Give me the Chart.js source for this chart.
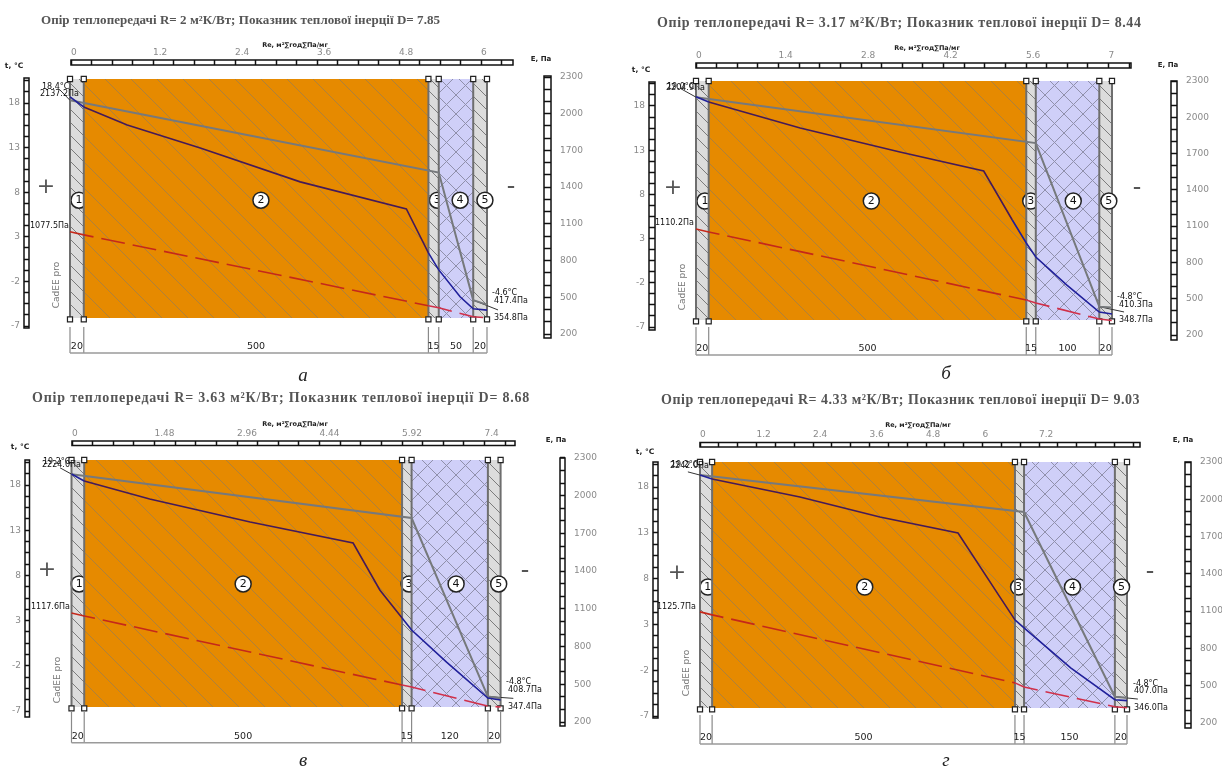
<!DOCTYPE html>
<html>
<head>
<meta charset="utf-8">
<title>Опір теплопередачі</title>
<script src="https://cdn.jsdelivr.net/npm/chart.js@4"></script>
<style>
  body { margin: 0; background: #fff; width: 1222px; height: 776px; overflow: hidden; position: relative; }
  canvas { position: absolute; left: 0; top: 0; }
  .title { position: absolute; white-space: nowrap; font-family: "Liberation Serif", serif; font-weight: bold; color: #555; transform: translateY(-50%); z-index: 5; }
  .caption { position: absolute; font: italic 19px "Liberation Serif", serif; color: #222; transform: translate(-50%, -50%); z-index: 5; }
</style>
</head>
<body>
<script>
// layer thickness, mm (same for the dimension labels under each panel)
const thicknessA = [20, 500, 15, 50, 20];
const thicknessB = [20, 500, 15, 100, 20];
const thicknessC = [20, 500, 15, 120, 20];
const thicknessD = [20, 500, 15, 150, 20];

// top axis labels, Re
const reLabelsA = [0, 1.2, 2.4, 3.6, 4.8, 6];
const reLabelsB = [0, 1.4, 2.8, 4.2, 5.6, 7];
const reLabelsC = [0, 1.48, 2.96, 4.44, 5.92, 7.4];
const reLabelsD = [0, 1.2, 2.4, 3.6, 4.8, 6, 7.2];

// side axis labels
const tempLabels = [18, 13, 8, 3, -2, -7];
const pressLabels = [2300, 2000, 1700, 1400, 1100, 800, 500, 200];

// temperature line: x in mm, t in °C
const tempXA = [0, 535, 585, 605];
const tempA = [18.3, 10.2, -4.1, -4.6];
const tempXB = [0, 535, 635, 655];
const tempB = [19.0, 13.8, -4.7, -4.8];
const tempXC = [0, 535, 655, 675];
const tempC = [19.2, 14.35, -5.4, -5.6];
const tempXD = [0, 535, 685, 705];
const tempD = [19.3, 15.27, -4.9, -5.0];

// saturation pressure E: x in mm, Pa
const satXA = [0, 20, 83, 189, 334, 488, 520, 535, 566, 585, 605];
const satA = [2137, 2055, 1908, 1720, 1443, 1222, 863, 724, 504, 406, 395];
const satXB = [0, 20, 164, 321, 453, 498, 520, 535, 584, 635, 655];
const satB = [2170, 2126, 1911, 1713, 1556, 1151, 961, 845, 613, 390, 374];
const satXC = [0, 20, 123, 281, 443, 485, 520, 535, 590, 655, 675];
const satC = [2173, 2117, 1974, 1791, 1624, 1250, 1027, 932, 677, 391, 375];
const satXD = [0, 20, 165, 297, 426, 495, 520, 535, 612, 685, 705];
const satD = [2195, 2163, 2019, 1858, 1729, 1215, 1030, 966, 644, 387, 380];

// vapour pressure e, dashed line: x in mm, Pa
const vapXA = [0, 20, 520, 535, 585, 605];
const vapA = [1035, 1010, 431, 414, 341, 333];
const vapXB = [0, 20, 520, 535, 635, 655];
const vapB = [1076, 1052, 489, 465, 332, 320];
const vapXC = [0, 20, 520, 535, 655, 675];
const vapC = [1067, 1043, 494, 478, 327, 319];
const vapXD = [0, 20, 520, 535, 685, 705];
const vapD = [1094, 1070, 523, 489, 331, 323];

// value labels next to the lines
const notesA = [["18.4°C", 42, 87], ["2137.2Па", 40, 94], ["1077.5Па", 30, 226], ["-4.6°C", 492, 293], ["417.4Па", 494, 301], ["354.8Па", 494, 318]];
const notesB = [["19.0°C", 667, 87], ["2204.9Па", 666, 88], ["1110.2Па", 655, 223], ["-4.8°C", 1117, 297], ["410.3Па", 1119, 305], ["348.7Па", 1119, 320]];
const notesC = [["19.2°C", 43, 462], ["2224.0Па", 42, 465], ["1117.6Па", 31, 607], ["-4.8°C", 506, 682], ["408.7Па", 508, 690], ["347.4Па", 508, 707]];
const notesD = [["19.2°C", 671, 465], ["2242.0Па", 670, 466], ["1125.7Па", 657, 607], ["-4.8°C", 1133, 684], ["407.0Па", 1134, 691], ["346.0Па", 1134, 708]];

const orangeHatch = makeHatch("#e68a00", "rgba(150,125,85,0.7)", 26, false);
const greyHatch = makeHatch("#dcdcdc", "#7c7c7c", 13, false);
const blueHatch = makeHatch("#cfcff8", "#9090ab", 19, true);
const layerFills = [greyHatch, orangeHatch, greyHatch, blueHatch, greyHatch];

const panels = [
  {
    title: "Опір теплопередачі R= 2 м²К/Вт; Показник теплової інерції D= 7.85", titleX: 41, titleY: 20, titleSize: 13, titleSpacing: 0.05,
    caption: "а", captionX: 303, captionY: 375,
    thickness: thicknessA, reLabels: reLabelsA, reSegments: 4,
    tempX: tempXA, temp: tempA, satX: satXA, sat: satA, vapX: vapXA, vap: vapA, notes: notesA,
    leaders: [[[-15, 19.5], [0, 18.3]], [[585, -4.1], [621, -5.2]]],
    circleX: [13, 277, 533, 566, 602], circleT: 7.1,
    frame: { left: 29, right: 544, top: 65, bottom: 338 },
    plot: { left: 70, right: 487, top: 79, bottom: 318 },
    t18: 103, tM7: 326, e2300: 77, e200: 334, re0: 71, reLabelGap: 82, reEnd: 513,
    rulerT: [78, 328, 5], rulerE: [76, 338, 7], rulerRe: 5,
    dimTop: -7.1, dimBottom: -10.03,
    plus: [46, 187], minus: [511, 187], cad: [57, 285],
    reTitle: [295, 45], tTitle: [14, 66], eTitle: [541, 59]
  },
  {
    title: "Опір теплопередачі R= 3.17 м²К/Вт; Показник теплової інерції D= 8.44", titleX: 657, titleY: 23, titleSize: 14, titleSpacing: 0.6,
    caption: "б", captionX: 946, captionY: 373,
    thickness: thicknessB, reLabels: reLabelsB, reSegments: 4,
    tempX: tempXB, temp: tempB, satX: satXB, sat: satB, vapX: vapXB, vap: vapB, notes: notesB,
    leaders: [[[-25, 20], [0, 19]], [[635, -4.7], [674, -5.3]]],
    circleX: [14, 276, 527, 594, 650], circleT: 7.25,
    frame: { left: 655, right: 1171, top: 68, bottom: 340 },
    plot: { left: 696, right: 1112, top: 81, bottom: 320 },
    t18: 106, tM7: 327, e2300: 81, e200: 335, re0: 696, reLabelGap: 82.5, reEnd: 1131,
    rulerT: [82, 330, 6], rulerE: [81, 340, 6], rulerRe: 5,
    dimTop: -7, dimBottom: -10.17,
    plus: [673, 188], minus: [1137, 188], cad: [683, 287],
    reTitle: [927, 48], tTitle: [641, 70], eTitle: [1168, 65]
  },
  {
    title: "Опір теплопередачі R= 3.63 м²К/Вт; Показник теплової інерції D= 8.68", titleX: 32, titleY: 398, titleSize: 14, titleSpacing: 0.8,
    caption: "в", captionX: 303, captionY: 760,
    thickness: thicknessC, reLabels: reLabelsC, reSegments: 4,
    tempX: tempXC, temp: tempC, satX: satXC, sat: satC, vapX: vapXC, vap: vapC, notes: notesC,
    leaders: [[[-18, 19.9], [0, 19.2]], [[655, -5.4], [695, -5.6]]],
    circleX: [12, 270, 531, 605, 672], circleT: 7.05,
    frame: { left: 29.5, right: 560, top: 445.5, bottom: 727 },
    plot: { left: 71.5, right: 500.6, top: 460, bottom: 707 },
    t18: 485, tM7: 711, e2300: 458, e200: 722, re0: 72, reLabelGap: 82.5, reEnd: 515,
    rulerT: [460, 717, 4.5], rulerE: [458, 726, 5], rulerRe: 4.5,
    dimTop: -7.1, dimBottom: -10.5,
    plus: [47, 570], minus: [525, 571], cad: [58, 680],
    reTitle: [295, 424], tTitle: [20, 447], eTitle: [556, 440]
  },
  {
    title: "Опір теплопередачі R= 4.33 м²К/Вт; Показник теплової інерції D= 9.03", titleX: 661, titleY: 400, titleSize: 14, titleSpacing: 0.52,
    caption: "г", captionX: 946, captionY: 760,
    thickness: thicknessD, reLabels: reLabelsD, reSegments: 3,
    tempX: tempXD, temp: tempD, satX: satXD, sat: satD, vapX: vapXD, vap: vapD, notes: notesD,
    leaders: [[[-20, 19.65], [0, 19.3]], [[685, -4.9], [723, -5.15]]],
    circleX: [13, 272, 526, 615, 696], circleT: 7.08,
    frame: { left: 658, right: 1185, top: 447, bottom: 728 },
    plot: { left: 700, right: 1127, top: 462, bottom: 708 },
    t18: 487, tM7: 716, e2300: 462, e200: 723, re0: 700, reLabelGap: 56.5, reEnd: 1140,
    rulerT: [462, 718, 5], rulerE: [462, 728, 6], rulerRe: 4.5,
    dimTop: -6.9, dimBottom: -10.06,
    plus: [677, 573], minus: [1150, 572], cad: [687, 673],
    reTitle: [918, 425], tTitle: [645, 452], eTitle: [1183, 440]
  }
];

function makeHatch(bg, line, size, cross) {
  const c = document.createElement("canvas");
  c.width = size;
  c.height = size;
  const g = c.getContext("2d");
  g.fillStyle = bg;
  g.fillRect(0, 0, size, size);
  g.strokeStyle = line;
  g.lineWidth = 1;
  const diag = (x0, y0, x1, y1) => {
    g.beginPath();
    g.moveTo(x0, y0);
    g.lineTo(x1, y1);
    g.stroke();
  };
  diag(-2, -2, size + 2, size + 2);
  if (cross) {
    diag(size + 2, -2, -2, size + 2);
  }
  return document.createElement("canvas").getContext("2d").createPattern(c, "repeat");
}

function cumulate(list) {
  const out = [0];
  list.forEach((v) => out.push(out[out.length - 1] + v));
  return out;
}

function zip(xs, ys) {
  return xs.map((x, i) => ({ x: x, y: ys[i] }));
}

function drawPanel(p) {
  const canvas = document.createElement("canvas");
  canvas.width = 1222;
  canvas.height = 776;
  document.body.appendChild(canvas);

  const bounds = cumulate(p.thickness);
  const total = bounds[bounds.length - 1];
  const f = p.frame;
  const mmPerPx = total / (p.plot.right - p.plot.left);
  const tPerPx = 25 / (p.tM7 - p.t18);
  const ePerPx = 2100 / (p.e200 - p.e2300);
  const tAt = (y) => 18 - (y - p.t18) * tPerPx;
  const ePxMax = 2300 + (p.e2300 - f.top) * ePerPx;
  const ePxMin = 200 - (f.bottom - p.e200) * ePerPx;
  const reStep = p.reLabels[1] / p.reSegments;
  const rePerPx = p.reLabels[1] / p.reLabelGap;

  const layerTop = tAt(p.plot.top);
  const layerBottom = tAt(p.plot.bottom);
  const markerBottom = layerBottom - 0.15;

  const tempTicks = [];
  for (let v = -7; v <= tAt(p.rulerT[0]); v += 1.25) tempTicks.push(v);
  const pressTicks = [];
  for (let v = 200; v <= 2300; v += 100) pressTicks.push(v);
  const reTicks = [];
  for (let k = 0; k * reStep <= (p.reEnd - p.re0) * rePerPx; k++) {
    reTicks.push(Math.round(k * reStep * 1000) / 1000);
  }

  const sets = [];
  const line = (data, opts) => sets.push(Object.assign({
    data: data, showLine: true, pointRadius: 0, borderWidth: 1, tension: 0, clip: false, yAxisID: "y"
  }, opts));
  const circle = (i) => line([{ x: p.circleX[i], y: p.circleT }], {
    showLine: false, pointRadius: 8, pointBackgroundColor: "#fff", pointBorderColor: "#222", pointBorderWidth: 1.5, digit: String(i + 1)
  });

  // layers, each fill covers part of the previous number circle
  layerFills.forEach((fill, i) => {
    line([{ x: bounds[i], y: layerTop }, { x: bounds[i + 1], y: layerTop }], {
      borderWidth: 0, fill: { value: layerBottom }, backgroundColor: fill
    });
    if (i < 3) circle(i);
  });
  bounds.forEach((x) => line([{ x: x, y: layerTop }, { x: x, y: layerBottom }], { borderColor: "#6e6e6e", borderWidth: 2 }));
  circle(3);
  circle(4);

  // dimension lines
  bounds.forEach((x) => line([{ x: x, y: p.dimTop }, { x: x, y: p.dimBottom }], { borderColor: "#8a8a8a", borderWidth: 1.2 }));
  line([{ x: 0, y: p.dimBottom }, { x: total, y: p.dimBottom }], { borderColor: "#9a9a9a", borderWidth: 1.5 });
  line(bounds.map((x) => ({ x: x, y: p.dimBottom })), {
    showLine: false, pointStyle: "crossRot", pointRadius: 2.5, pointBorderColor: "#666", pointBorderWidth: 1
  });

  // squares at the layer boundaries
  line(bounds.map((x) => ({ x: x, y: layerTop })).concat(bounds.map((x) => ({ x: x, y: markerBottom }))), {
    showLine: false, pointStyle: "rect", pointRadius: 3.6, pointBackgroundColor: "#fff", pointBorderColor: "#222", pointBorderWidth: 1.2
  });

  p.leaders.forEach((l) => line(l.map((q) => ({ x: q[0], y: q[1] })), { borderColor: "#333", borderWidth: 1 }));
  line(zip(p.vapX, p.vap), {
    yAxisID: "E", borderWidth: 1.6, borderDash: [24, 8],
    segment: { borderColor: (c) => (c.p0.parsed.x >= 520 ? "#d0304a" : "#c5281a") }
  });
  line(zip(p.tempX, p.temp), { borderColor: "#76797c", borderWidth: 2 });
  line(zip(p.satX, p.sat), {
    yAxisID: "E", borderWidth: 1.6,
    segment: { borderColor: (c) => (c.p0.parsed.x >= 498 || c.p0.parsed.x < 20 ? "#20209a" : "#451a58") }
  });
  sets.forEach((d, i) => { d.order = -i; });

  const tickFont = { family: "DejaVu Sans", size: 9 };
  const axisGrid = (len) => ({ drawOnChartArea: false, drawTicks: true, tickLength: len, tickColor: "#111", tickWidth: 1.5 });

  const panelText = {
    id: "panelText",
    // digit goes with its circle so that the next layer can cut it too
    afterDatasetDraw(chart, args) {
      const d = chart.data.datasets[args.index];
      if (!d.digit) return;
      const pt = args.meta.data[0];
      const ctx = chart.ctx;
      ctx.save();
      ctx.font = '11px "DejaVu Sans"';
      ctx.fillStyle = "#111";
      ctx.textAlign = "center";
      ctx.textBaseline = "middle";
      ctx.fillText(d.digit, pt.x, pt.y);
      ctx.restore();
    },
    afterDraw(chart) {
      const ctx = chart.ctx;
      const write = (text, x, y, font, color, align) => {
        ctx.font = font;
        ctx.fillStyle = color;
        ctx.textAlign = align || "left";
        ctx.textBaseline = "middle";
        ctx.fillText(text, x, y);
      };
      ctx.save();
      // ruler outlines
      ctx.strokeStyle = "#111";
      ctx.lineWidth = 1.5;
      ctx.strokeRect(f.left - p.rulerT[2], p.rulerT[0], p.rulerT[2], p.rulerT[1] - p.rulerT[0]);
      ctx.strokeRect(f.right, p.rulerE[0], p.rulerE[2], p.rulerE[1] - p.rulerE[0]);
      ctx.strokeRect(p.re0, f.top - p.rulerRe, p.reEnd - p.re0, p.rulerRe);

      const small = '8px "DejaVu Sans"';
      p.notes.forEach((n) => write(n[0], n[1], n[2], small, "#111"));
      for (let i = 0; i < p.thickness.length; i++) {
        const mid = chart.scales.x.getPixelForValue((bounds[i] + bounds[i + 1]) / 2);
        write(String(p.thickness[i]), mid, chart.scales.y.getPixelForValue(p.dimBottom) - 6, '9.5px "DejaVu Sans"', "#222", "center");
      }
      write("Re, м²∑год∑Па/мг", p.reTitle[0], p.reTitle[1], 'bold 6.5px "DejaVu Sans"', "#222", "center");
      write("t, °C", p.tTitle[0], p.tTitle[1], 'bold 7.5px "DejaVu Sans"', "#222", "center");
      write("E, Па", p.eTitle[0], p.eTitle[1], 'bold 7px "DejaVu Sans"', "#222", "center");
      write("+", p.plus[0], p.plus[1], '22px "DejaVu Sans"', "#555", "center");
      write("–", p.minus[0], p.minus[1], 'bold 16px "DejaVu Sans"', "#555", "center");
      ctx.translate(p.cad[0], p.cad[1]);
      ctx.rotate(-Math.PI / 2);
      write("CadEE pro", 0, 0, '9px "DejaVu Sans"', "#777", "center");
      ctx.restore();
    }
  };

  new Chart(canvas.getContext("2d"), {
    type: "scatter",
    data: { datasets: sets },
    plugins: [panelText],
    options: {
      responsive: false,
      animation: false,
      layout: {
        autoPadding: false,
        padding: { left: 0, top: 0, right: 0, bottom: 776 - f.bottom }
      },
      plugins: { legend: { display: false }, tooltip: { enabled: false }, title: { display: false } },
      scales: {
        x: {
          type: "linear", display: false,
          min: (f.left - p.plot.left) * mmPerPx,
          max: (f.right - p.plot.left) * mmPerPx
        },
        y: {
          type: "linear", position: "left",
          min: tAt(f.bottom), max: tAt(f.top),
          border: { display: false },
          grid: axisGrid(p.rulerT[2]),
          afterFit: (s) => { s.width = f.left; },
          afterBuildTicks: (s) => { s.ticks = tempTicks.map((v) => ({ value: v })); },
          ticks: {
            autoSkip: false, padding: 4, color: "#8a8a8a", font: tickFont,
            callback: (v) => (tempLabels.includes(v) ? String(v) : "")
          }
        },
        E: {
          type: "linear", position: "right",
          min: ePxMin, max: ePxMax,
          border: { display: false },
          grid: axisGrid(p.rulerE[2]),
          afterFit: (s) => { s.width = 1222 - f.right; },
          afterBuildTicks: (s) => { s.ticks = pressTicks.map((v) => ({ value: v })); },
          ticks: {
            autoSkip: false, padding: 9, color: "#8a8a8a", font: tickFont,
            callback: (v) => (pressLabels.includes(v) ? String(v) : "")
          }
        },
        re: {
          type: "linear", axis: "x", position: "top",
          min: (f.left - p.re0) * rePerPx,
          max: (f.right - p.re0) * rePerPx,
          border: { display: false },
          grid: axisGrid(p.rulerRe),
          afterFit: (s) => { s.height = f.top; },
          afterBuildTicks: (s) => { s.ticks = reTicks.map((v) => ({ value: v })); },
          ticks: {
            autoSkip: false, maxRotation: 0, align: "start", padding: 2, color: "#8a8a8a", font: tickFont,
            callback: (v) => (p.reLabels.includes(v) ? String(v) : "")
          }
        }
      }
    }
  });

  const title = document.createElement("div");
  title.className = "title";
  title.textContent = p.title;
  title.style.left = p.titleX + "px";
  title.style.top = p.titleY + "px";
  title.style.fontSize = p.titleSize + "px";
  title.style.letterSpacing = p.titleSpacing + "px";
  document.body.appendChild(title);

  const caption = document.createElement("div");
  caption.className = "caption";
  caption.textContent = p.caption;
  caption.style.left = p.captionX + "px";
  caption.style.top = p.captionY + "px";
  document.body.appendChild(caption);
}

panels.forEach(drawPanel);
</script>
</body>
</html>
